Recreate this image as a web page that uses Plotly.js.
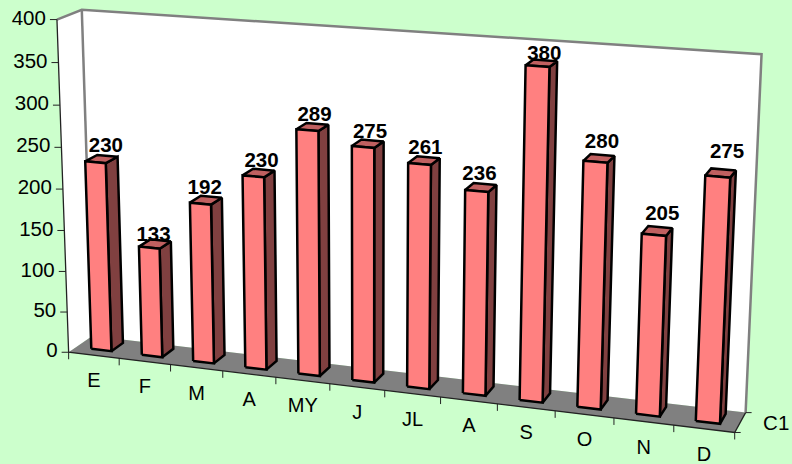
<!DOCTYPE html>
<html><head><meta charset="utf-8">
<script src="https://cdn.plot.ly/plotly-3.0.1.min.js"></script>
<style>html,body{margin:0;padding:0;background:#ccffcc}</style></head>
<body><div id="chart" style="width:792px;height:464px"></div>
<script>
// ---- data ----
const categories = ["E","F","M","A","MY","J","JL","A","S","O","N","D"];
const values = [230,133,192,230,289,275,261,236,380,280,205,275];
const yTicks = [0,50,100,150,200,250,300,350,400];
const seriesName = "C1";

// ---- 3D -> picture projection (fitted on the box's visible landmarks) ----
const landmarks = [
 [0,0,400,56.7,19.3],[0,0,350,58,62.3],[0,0,300,59.3,105],[0,0,250,61.3,147],[0,0,200,62.7,189],
 [0,0,100,66.7,271],[0,0,50,67.7,311.3],[0,0,0,69.3,351.3],
 [1,0,0,119.3,358],[2,0,0,171,364.3],[3,0,0,223,371.3],[4,0,0,276,377.7],[5,0,0,329.7,383.7],
 [6,0,0,384.7,391],[7,0,0,440.3,398],[8,0,0,497,405],[9,0,0,555.3,411],[10,0,0,613.7,418],
 [11,0,0,673.3,425],[12,0,0,734.7,432.7],
 [0,1,400,82.7,10.7],[0,1,0,90.7,337],[12,1,400,761.7,54.3],[12,1,0,746.3,410.3]
];
// small per-label placement corrections (pixels) for the value labels
const labelDx = [3,-3,-3,1,0,0,-1,-4,0,0,2,3];
const labelDy = [-2,2,-1,-1,0,0,-1,-2,2,-5,-6,-10];

function fit(pts){
  const n=11, A=Array.from({length:n},()=>Array(n+1).fill(0));
  const add=(r,b)=>{for(let i=0;i<n;i++){for(let j=0;j<n;j++)A[i][j]+=r[i]*r[j];A[i][n]+=r[i]*b;}};
  pts.forEach(([u,v,z,x,y])=>{
    const U=u/12,Z=z/400;
    add([U,v,Z,1,0,0,0,0,-x*U,-x*v,-x*Z],x);
    add([0,0,0,0,U,v,Z,1,-y*U,-y*v,-y*Z],y);
  });
  for(let i=0;i<n;i++){
    let m=i;for(let k=i+1;k<n;k++)if(Math.abs(A[k][i])>Math.abs(A[m][i]))m=k;
    [A[i],A[m]]=[A[m],A[i]];
    for(let k=0;k<n;k++)if(k!==i){const f=A[k][i]/A[i][i];for(let j=i;j<=n;j++)A[k][j]-=f*A[i][j];}
  }
  return A.map((r,i)=>r[n]/r[i]);
}
const P=fit(landmarks);
function proj(u,v,z){
  const U=u/12,Z=z/400,w=P[8]*U+P[9]*v+P[10]*Z+1;
  return [(P[0]*U+P[1]*v+P[2]*Z+P[3])/w,(P[4]*U+P[5]*v+P[6]*Z+P[7])/w];
}
function poly(corners){
  const xs=[],ys=[];
  corners.concat([corners[0]]).forEach(c=>{const p=proj(c[0],c[1],c[2]);xs.push(p[0]);ys.push(p[1]);});
  xs.push(null);ys.push(null);return [xs,ys];
}
function polys(list){const X=[],Y=[];list.forEach(c=>{const [a,b]=poly(c);X.push(...a);Y.push(...b);});return [X,Y];}
function face(list,fill,lw,lc){
  const [x,y]=polys(list);
  return {type:"scatter",mode:"lines",x,y,fill:"toself",fillcolor:fill,
          line:{color:lc||fill,width:lw},hoverinfo:"skip",showlegend:false};
}
function seg(pts,color,width){
  return {type:"scatter",mode:"lines",x:pts.map(p=>p?p[0]:null),y:pts.map(p=>p?p[1]:null),
          line:{color,width},hoverinfo:"skip",showlegend:false};
}
function txt(x,y,text,pos,size,bold){
  return {type:"scatter",mode:"text",x,y,text,textposition:pos,hoverinfo:"skip",showlegend:false,
          textfont:{family:"Liberation Sans, Arial, sans-serif",size,color:"#000",weight:bold?"bold":"normal"},cliponaxis:false};
}
const N=categories.length, ZM=yTicks[yTicks.length-1];
const BAR_U0=0.30,BAR_U1=0.70,BAR_V0=0.32,BAR_V1=0.82;
const traces=[];
// walls and floor
traces.push(face([[[0,0,0],[0,0,ZM],[0,1,ZM],[0,1,0]]],"#ffffff",0));
traces.push(face([[[0,1,0],[0,1,ZM],[N,1,ZM],[N,1,0]]],"#ffffff",0));
traces.push(face([[[0,0,0],[N,0,0],[N,1,0],[0,1,0]]],"#808080",0));
traces.push(seg([proj(0,0,ZM),proj(0,1,ZM),proj(N,1,ZM),proj(N,1,0)],"#808080",2.5));
traces.push(seg([proj(0,1,ZM),proj(0,1,0)],"#808080",2.5));
// axes
traces.push(seg([proj(0,0,ZM),proj(0,0,0),proj(N,0,0),proj(N,1,0)],"#222222",1.3));
const tk=[];
yTicks.forEach(t=>{const p=proj(0,0,t);tk.push([p[0]-7,p[1]],p,null);});
for(let i=0;i<=N;i++){const p=proj(i,0,0);tk.push(p,[p[0],p[1]+7],null);}
[0,1].forEach(v=>{const p=proj(N,v,0);tk.push(p,[p[0]+6,p[1]],null);});
traces.push(seg(tk,"#222222",1));
// bars
const sideFaces=[],topFaces=[],frontFaces=[];
values.forEach((val,i)=>{
  const a=i+BAR_U0,b=i+BAR_U1;
  sideFaces.push([[b,BAR_V0,0],[b,BAR_V1,0],[b,BAR_V1,val],[b,BAR_V0,val]]);
  topFaces.push([[a,BAR_V0,val],[b,BAR_V0,val],[b,BAR_V1,val],[a,BAR_V1,val]]);
  frontFaces.push([[a,BAR_V0,0],[b,BAR_V0,0],[b,BAR_V0,val],[a,BAR_V0,val]]);
});
traces.push(face(sideFaces,"#804040",2.5,"#000"));
traces.push(face(topFaces,"#c06060",2.5,"#000"));
traces.push(face(frontFaces,"#ff8080",2.5,"#000"));
// y tick labels
const yl=yTicks.map(t=>proj(0,0,t));
traces.push(txt(yl.map(p=>p[0]-11),yl.map(p=>p[1]),yTicks.map(String),"middle left",20.5,false));
// category labels
const cl=categories.map((c,i)=>proj(i+0.5,0,0));
traces.push(txt(cl.map(p=>p[0]),cl.map(p=>p[1]+27),categories,"middle center",20,false));
// value labels
const vl=values.map((v,i)=>proj(i+0.6,0.5,v));
traces.push(txt(vl.map((p,i)=>p[0]-2+labelDx[i]),vl.map((p,i)=>p[1]-12+labelDy[i]),values.map(String),"middle center",20.5,true));
// series label
const sp=proj(N,0.5,0);
traces.push(txt([sp[0]+36],[sp[1]+2],[seriesName],"middle center",20.5,false));

Plotly.newPlot("chart",traces,{
  width:792,height:464,margin:{l:0,r:0,t:0,b:0},
  paper_bgcolor:"#ccffcc",plot_bgcolor:"#ccffcc",showlegend:false,
  xaxis:{range:[0,792],visible:false,fixedrange:true},
  yaxis:{range:[464,0],visible:false,fixedrange:true}
},{displayModeBar:false,staticPlot:true});
</script></body></html>
